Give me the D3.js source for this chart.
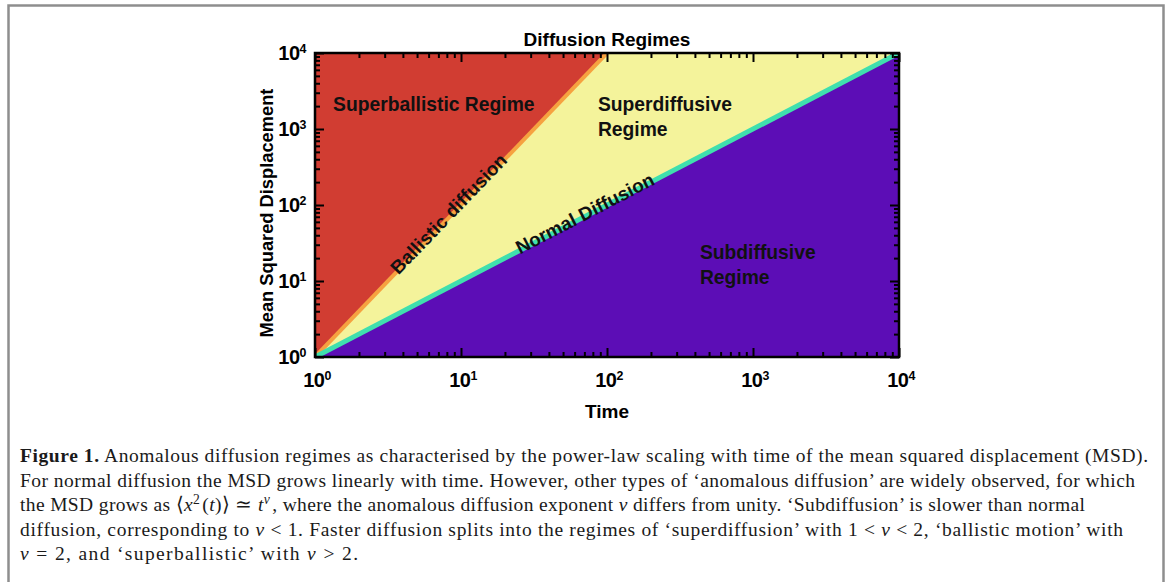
<!DOCTYPE html>
<html>
<head>
<meta charset="utf-8">
<script src="https://cdn.jsdelivr.net/npm/d3@7"></script>
<style>
  html, body { margin: 0; padding: 0; background: #fff; }
  svg { display: block; }
</style>
</head>
<body>
<svg id="chart" width="1170" height="582"></svg>
<script>
// ---------- data ----------
const timeDomain = [1, 10000];
const msdDomain = [1, 10000];
const decadeExponents = [0, 1, 2, 3, 4];

// regime boundary lines (t, msd)
const ballisticLine = [[1, 1], [100, 10000]];
const normalLine = [[1, 1], [10000, 10000]];

// regime regions (t, msd)
const superballisticRegion = [[1, 1], [100, 10000], [1, 10000]];
const superdiffusiveRegion = [[1, 1], [100, 10000], [10000, 10000]];
const subdiffusiveRegion = [[1, 1], [10000, 10000], [10000, 1]];

const regionColors = ["#d13d32", "#f4f39b", "#5c0db6"];
const lineColors = ["#f6a240", "#3fdfae"];

// region labels: lines of text, anchor position in data coords
const regionLabels = [
  { lines: ["Superballistic Regime"], t: 1.33, msd: 1700 },
  { lines: ["Superdiffusive", "Regime"], t: 86.7, msd: 1700 },
  { lines: ["Subdiffusive", "Regime"], t: 433, msd: 19.2 }
];
// line labels positioned at a time value along each power law
const lineLabels = [
  { text: "Ballistic diffusion", t: 8.5, nu: 2 },
  { text: "Normal Diffusion", t: 72, nu: 1 }
];

const captionLines = [
  [{b:"Figure 1."}, {s:" Anomalous diffusion regimes as characterised by the power-law scaling with time of the mean squared displacement (MSD)."}],
  [{s:"For normal diffusion the MSD grows linearly with time. However, other types of \u2018anomalous diffusion\u2019 are widely observed, for which"}],
  [{s:"the MSD grows as \u27E8"}, {i:"x"}, {sup:"2"}, {s:"("}, {i:"t"}, {s:")\u27E9 \u2243 "}, {i:"t"}, {supi:"\u03BD"}, {s:", where the anomalous diffusion exponent "}, {i:"\u03BD"}, {s:" differs from unity. \u2018Subdiffusion\u2019 is slower than normal"}],
  [{s:"diffusion, corresponding to "}, {i:"\u03BD"}, {s:" < 1. Faster diffusion splits into the regimes of \u2018superdiffusion\u2019 with 1 < "}, {i:"\u03BD"}, {s:" < 2, \u2018ballistic motion\u2019 with"}],
  [{i:"\u03BD"}, {s:" = 2, and \u2018superballistic\u2019 with "}, {i:"\u03BD"}, {s:" > 2."}]
];
const captionWidths = [1128, 1115, 1065, 1103, 338];

// ---------- layout ----------
const svg = d3.select("#chart");
const plot = { left: 315, right: 899, top: 53, bottom: 357 };

// outer frame
svg.append("rect")
  .attr("x", 8.5).attr("y", 5.5)
  .attr("width", 1155).attr("height", 600)
  .attr("fill", "none").attr("stroke", "#8e8e8e").attr("stroke-width", 2.5);

const x = d3.scaleLog().domain(timeDomain).range([plot.left, plot.right]);
const y = d3.scaleLog().domain(msdDomain).range([plot.bottom, plot.top]);

const g = svg.append("g");
g.append("clipPath").attr("id", "clip")
  .append("rect").attr("x", plot.left).attr("y", plot.top)
  .attr("width", plot.right - plot.left).attr("height", plot.bottom - plot.top);

const line = d3.line().x(d => x(d[0])).y(d => y(d[1]));
const area = d3.line().x(d => x(d[0])).y(d => y(d[1])).curve(d3.curveLinearClosed);

const regions = [superballisticRegion, superdiffusiveRegion, subdiffusiveRegion];
const cg = g.append("g").attr("clip-path", "url(#clip)");
cg.selectAll("path.region").data(regions).join("path")
  .attr("class", "region")
  .attr("d", area)
  .attr("fill", (d, i) => regionColors[i])
  .attr("stroke", (d, i) => regionColors[i]).attr("stroke-width", 0.5);

cg.append("path").datum(ballisticLine).attr("d", line)
  .attr("fill", "none").attr("stroke", lineColors[0]).attr("stroke-width", 4);
cg.append("path").datum(normalLine).attr("d", line)
  .attr("fill", "none").attr("stroke", lineColors[1]).attr("stroke-width", 5);

// ---------- axes (inward ticks) ----------
const tickVals = x.ticks();
const isMajor = v => Math.abs(Math.log10(v) - Math.round(Math.log10(v))) < 1e-9;
const majors = tickVals.filter(isMajor);
const minors = tickVals.filter(v => !isMajor(v));

function addAxis(axisGen, scale, transform, vals, size) {
  const a = g.append("g").attr("transform", transform)
    .call(axisGen(scale).tickValues(vals).tickSize(size).tickFormat(""));
  a.select(".domain").remove();
  a.selectAll("line").attr("stroke", "#000").attr("stroke-width", 2);
}
const MAJ = 9, MIN = 5;
addAxis(d3.axisBottom, x, `translate(0,${plot.bottom})`, majors, -MAJ);
addAxis(d3.axisBottom, x, `translate(0,${plot.bottom})`, minors, -MIN);
addAxis(d3.axisTop, x, `translate(0,${plot.top})`, majors, -MAJ);
addAxis(d3.axisTop, x, `translate(0,${plot.top})`, minors, -MIN);
addAxis(d3.axisLeft, y, `translate(${plot.left},0)`, majors, -MAJ);
addAxis(d3.axisLeft, y, `translate(${plot.left},0)`, minors, -MIN);
addAxis(d3.axisRight, y, `translate(${plot.right},0)`, majors, -MAJ);
addAxis(d3.axisRight, y, `translate(${plot.right},0)`, minors, -MIN);

g.append("rect")
  .attr("x", plot.left).attr("y", plot.top)
  .attr("width", plot.right - plot.left).attr("height", plot.bottom - plot.top)
  .attr("fill", "none").attr("stroke", "#000").attr("stroke-width", 2.5);

const sans = "'Liberation Sans', Arial, sans-serif";

function powLabel(sel, e) {
  sel.append("tspan").text("10");
  sel.append("tspan").attr("dy", "-0.55em").attr("font-size", "0.62em").text(e);
}

// x tick labels
decadeExponents.forEach(e => {
  const t = g.append("text")
    .attr("x", x(Math.pow(10, e)) + 2).attr("y", plot.bottom + 30)
    .attr("text-anchor", "middle")
    .attr("font-family", sans).attr("font-weight", "bold").attr("font-size", 20)
    .attr("letter-spacing", -0.5);
  powLabel(t, e);
});
// y tick labels
decadeExponents.forEach(e => {
  const t = g.append("text")
    .attr("x", plot.left - 9).attr("y", y(Math.pow(10, e)) + 7)
    .attr("text-anchor", "end")
    .attr("font-family", sans).attr("font-weight", "bold").attr("font-size", 20)
    .attr("letter-spacing", -0.5);
  powLabel(t, e);
});

// titles
g.append("text").attr("x", 607).attr("y", 46).attr("text-anchor", "middle")
  .attr("font-family", sans).attr("font-weight", "bold").attr("font-size", 19)
  .text("Diffusion Regimes");
g.append("text").attr("x", 607).attr("y", 418).attr("text-anchor", "middle")
  .attr("font-family", sans).attr("font-weight", "bold").attr("font-size", 19)
  .text("Time");
g.append("text")
  .attr("transform", `translate(273,${(plot.top + plot.bottom) / 2 + 8}) rotate(-90)`)
  .attr("text-anchor", "middle")
  .attr("font-family", sans).attr("font-weight", "bold").attr("font-size", 18.3)
  .text("Mean Squared Displacement");

// region labels
regionLabels.forEach(r => {
  const t = g.append("text")
    .attr("font-family", sans).attr("font-weight", "bold").attr("font-size", 19.3)
    .attr("fill", "#111");
  r.lines.forEach((s, i) => {
    t.append("tspan").attr("x", x(r.t)).attr("y", y(r.msd) + i * 25).text(s);
  });
});

// line labels rotated along power laws
lineLabels.forEach(l => {
  const px = x(l.t), py = y(Math.pow(l.t, l.nu));
  const x2 = x(l.t * 10), y2 = y(Math.pow(l.t * 10, l.nu));
  const ang = Math.atan2(y2 - py, x2 - px) * 180 / Math.PI;
  g.append("text")
    .attr("transform", `translate(${px},${py}) rotate(${ang})`)
    .attr("text-anchor", "middle").attr("dy", "0.2em")
    .attr("font-family", sans).attr("font-weight", "bold").attr("font-size", 19)
    .attr("fill", "#111")
    .text(l.text);
});

// caption
const serif = "'Liberation Serif', 'Times New Roman', serif";
const capBase = [462, 487, 511, 536, 560];
const FS = 19.5;
captionLines.forEach((parts, i) => {
  const t = svg.append("text")
    .attr("x", 20).attr("y", capBase[i])
    .attr("font-family", serif).attr("font-size", FS).attr("fill", "#1a1a1a")
    .attr("textLength", captionWidths[i]).attr("lengthAdjust", "spacing");
  parts.forEach(p => {
    if (p.b) t.append("tspan").attr("font-weight", "bold").text(p.b);
    else if (p.i) t.append("tspan").attr("font-style", "italic").text(p.i);
    else if (p.sup || p.supi) {
      const s = t.append("tspan").attr("dy", -7).attr("font-size", FS * 0.7).text(p.sup || p.supi);
      if (p.supi) s.attr("font-style", "italic");
      t.append("tspan").attr("dy", 7).text("\u200A");
    } else t.append("tspan").text(p.s);
  });
});
</script>
</body>
</html>
